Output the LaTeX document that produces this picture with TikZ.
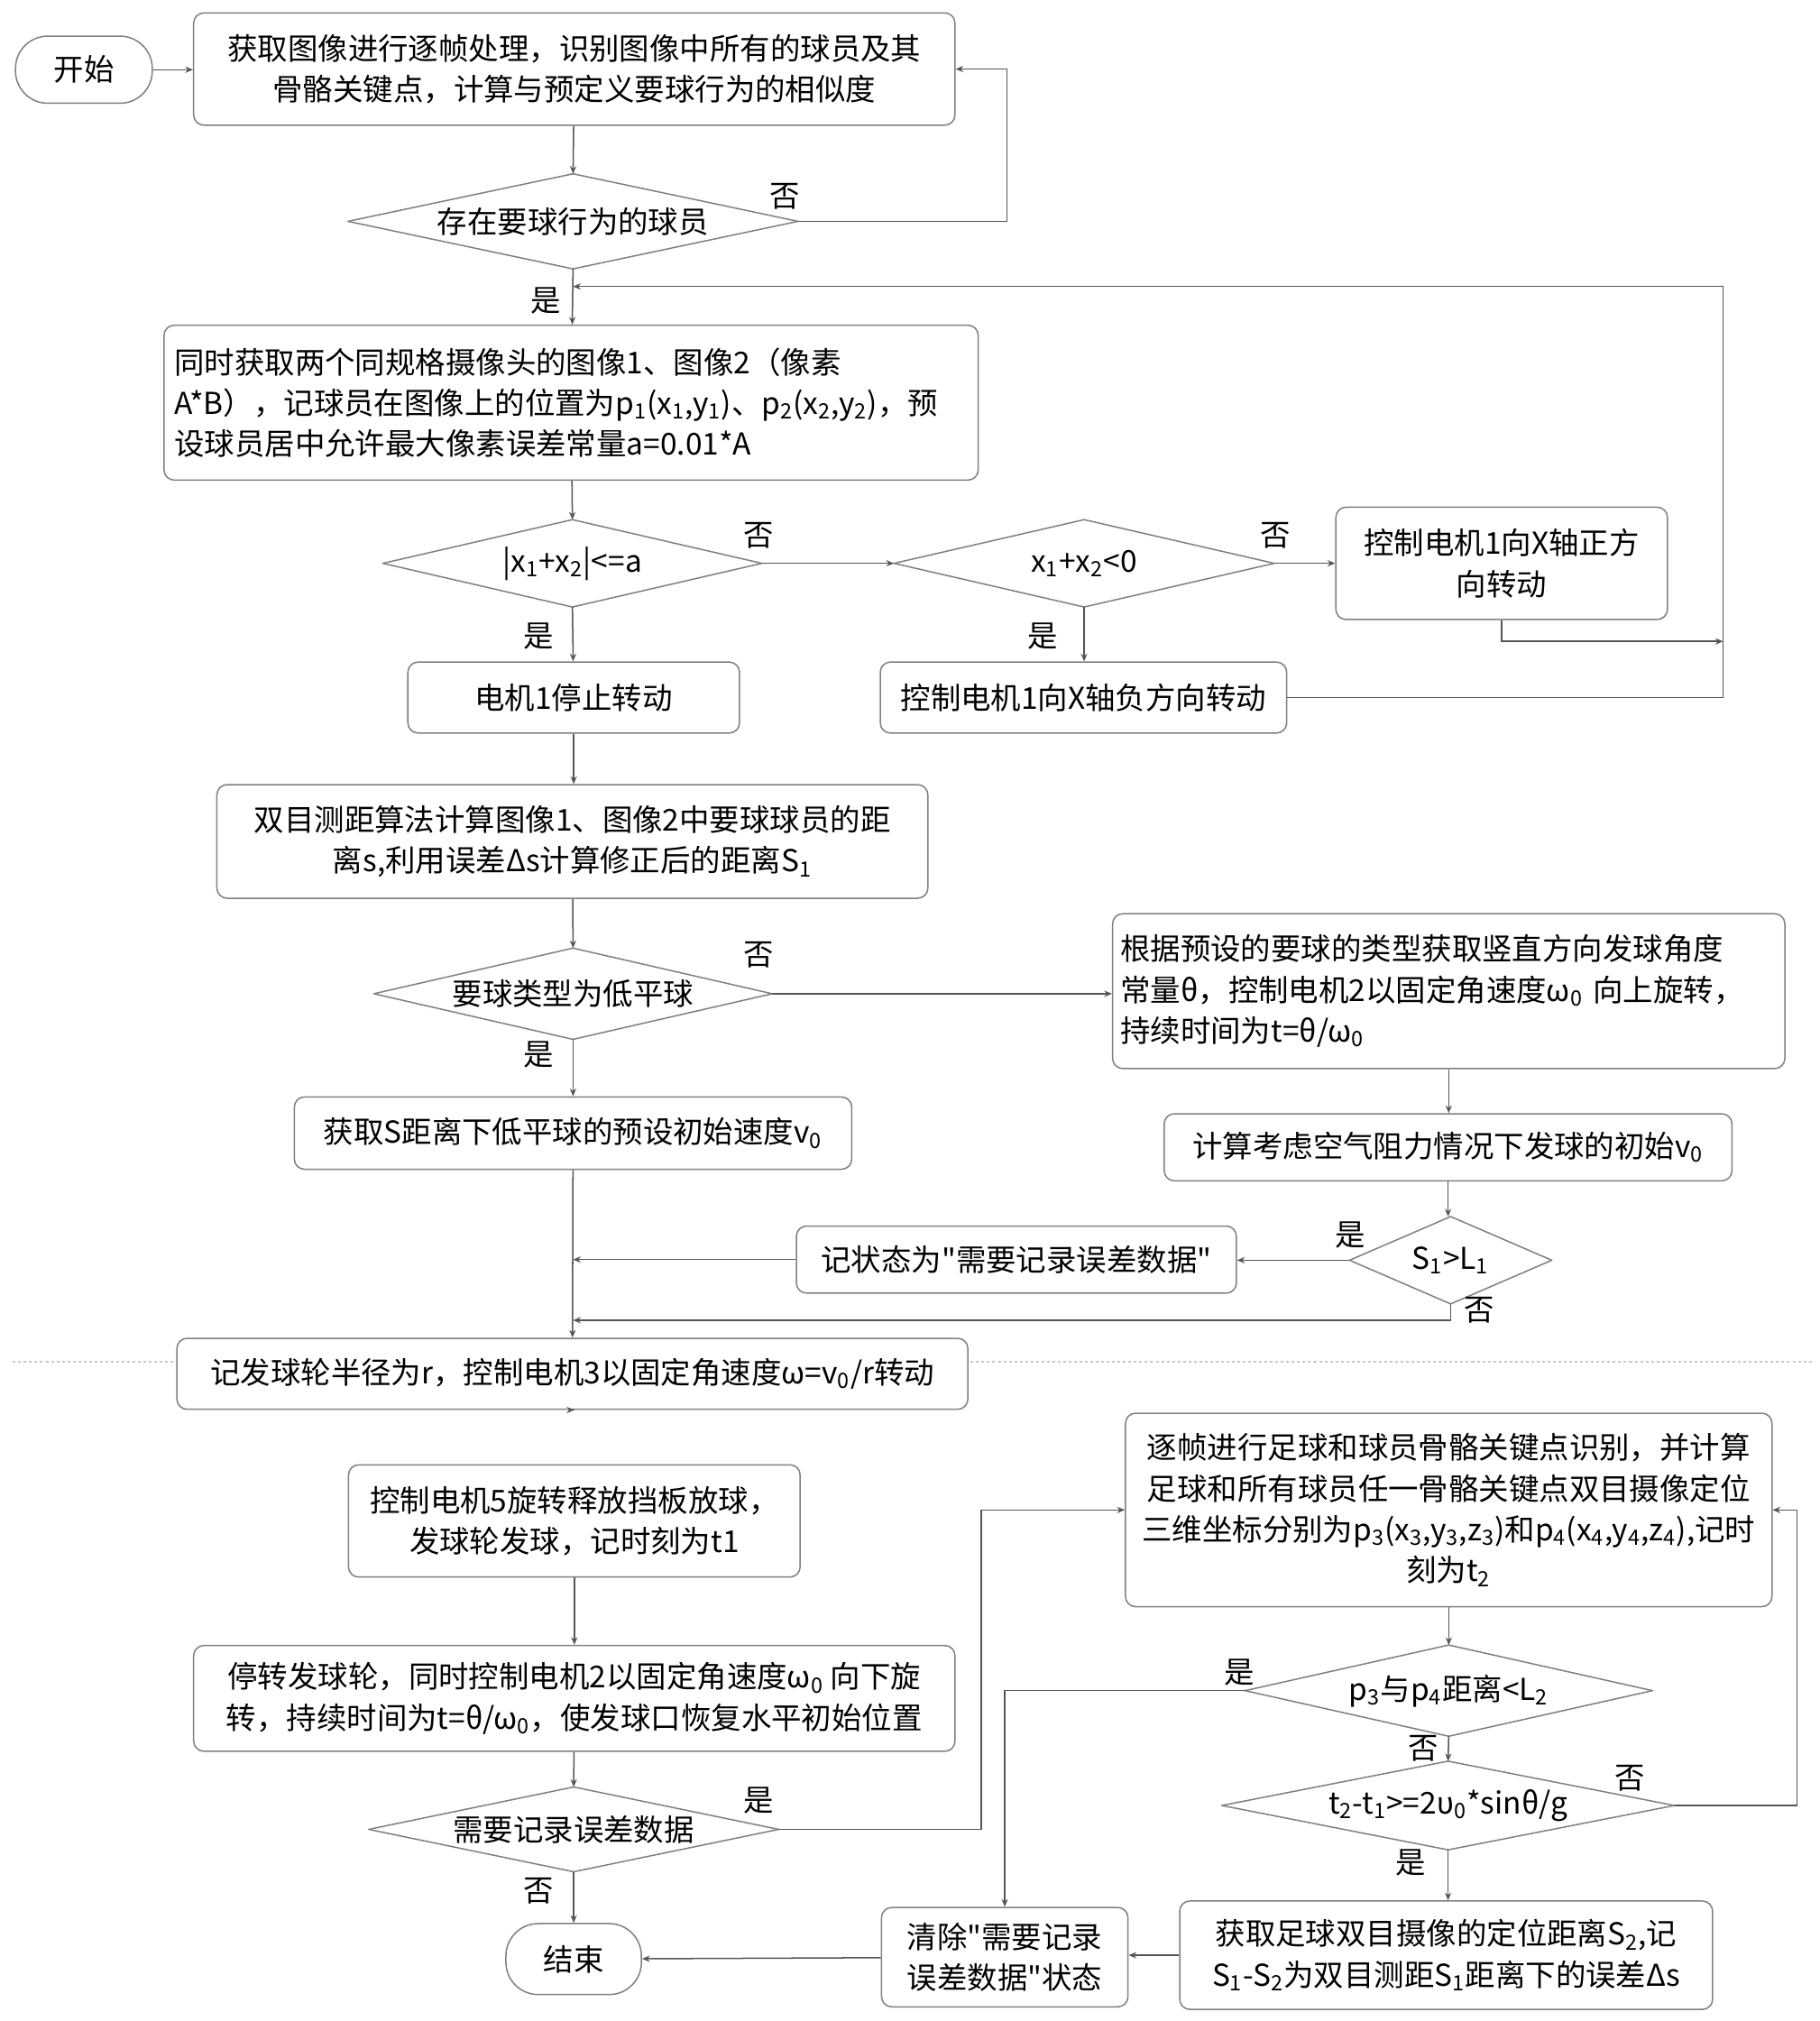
\documentclass[tikz,border=0pt]{standalone}
\usepackage{fontspec}
\setmainfont{Noto Sans CJK SC}[Ligatures=TeXOff]
\usetikzlibrary{arrows.meta}
\definecolor{linegray}{HTML}{555555}
\definecolor{boxgray}{HTML}{808080}
\newcommand{\sbs}[1]{\textsubscript{#1}}
\begin{document}
\begin{tikzpicture}[x=0.02cm,y=-0.02cm,>={Stealth[length=3.4pt,width=2.8pt]}]
        \tikzset{Process/.style={%
                shape=rectangle,%
                draw=boxgray,%
                fill=white,%
                rounded corners=4.5pt,%
                line width=0.6pt,%
                inner sep=0pt,%
                align=center,%
                font=\fontsize{13.3}{18}\selectfont,%
            },
            Terminal/.style={Process, rounded corners=0.5cm},
            Border/.style={-, draw=boxgray, line width=0.6pt, line cap=round},
            Decision/.style={%
                shape=rectangle,%
                inner sep=0pt,%
                font=\fontsize{13.3}{18}\selectfont,%
                append after command={%
                    (\tikzlastnode.north) edge[Border] (\tikzlastnode.east)
                    (\tikzlastnode.east) edge[Border] (\tikzlastnode.south)
                    (\tikzlastnode.south) edge[Border] (\tikzlastnode.west)
                    (\tikzlastnode.west) edge[Border] (\tikzlastnode.north)},%
            },
            Label/.style={font=\fontsize{13.3}{16}\selectfont, inner sep=0pt},
            Flow/.style={->, draw=linegray, line width=0.6pt},
        }

        \fill[white] (0,0) rectangle (1410,1566);
        \draw[draw=black!22, line width=0.6pt, dash pattern=on 1.2pt off 1.2pt] (10,1055) -- (1405,1055);

        % left column
        \node[Terminal, minimum width=2.12cm, minimum height=1.04cm] (start) at (65,54) {开始};
        \node[Process, minimum width=11.8cm, minimum height=1.74cm] (acquire) at (445,53.5) {获取图像进行逐帧处理，识别图像中所有的球员及其\\骨骼关键点，计算与预定义要球行为的相似度};
        \node[Decision, minimum width=6.96cm, minimum height=1.46cm] (exist) at (444,171.5) {存在要球行为的球员};
        \node[Process, minimum width=12.62cm, minimum height=2.4cm, text width=12.3cm, align=left] (camera) at (442.5,312) {同时获取两个同规格摄像头的图像1、图像2（像素\\A*B），记球员在图像上的位置为p\sbs{1}(x\sbs{1},y\sbs{1})、p\sbs{2}(x\sbs{2},y\sbs{2})，预\\设球员居中允许最大像素误差常量a=0.01*A};
        \node[Decision, minimum width=5.86cm, minimum height=1.34cm] (center) at (443.5,436.5) {|x\sbs{1}+x\sbs{2}|<=a};
        \node[Decision, minimum width=5.88cm, minimum height=1.34cm] (sign) at (840,436.5) {x\sbs{1}+x\sbs{2}<0};
        \node[Process, minimum width=5.14cm, minimum height=1.74cm] (turnpos) at (1163.5,436.5) {控制电机1向X轴正方\\向转动};
        \node[Process, minimum width=5.14cm, minimum height=1.1cm] (stop) at (444.5,540.5) {电机1停止转动};
        \node[Process, minimum width=6.3cm, minimum height=1.1cm] (turnneg) at (839.5,540.5) {控制电机1向X轴负方向转动};
        \node[Process, minimum width=11.02cm, minimum height=1.76cm] (ranging) at (443.5,652) {双目测距算法计算图像1、图像2中要球球员的距\\离s,利用误差Δs计算修正后的距离S\sbs{1}};
        \node[Decision, minimum width=6.16cm, minimum height=1.4cm] (lowball) at (444,770) {要球类型为低平球};
        \node[Process, minimum width=10.42cm, minimum height=2.4cm, text width=10.18cm, align=left] (angle) at (1122.5,768) {根据预设的要球的类型获取竖直方向发球角度\\常量θ，控制电机2以固定角速度ω\sbs{0} 向上旋转，\\持续时间为t=θ/ω\sbs{0}};
        \node[Process, minimum width=8.64cm, minimum height=1.12cm] (presetv) at (444,878) {获取S距离下低平球的预设初始速度v\sbs{0}};
        \node[Process, minimum width=8.8cm, minimum height=1.04cm] (airv) at (1122,889) {计算考虑空气阻力情况下发球的初始v\sbs{0}};
        \node[Decision, minimum width=3.12cm, minimum height=1.34cm] (far) at (1124,976.5) {S\sbs{1}>L\sbs{1}};
        \node[Process, minimum width=6.82cm, minimum height=1.04cm] (mark) at (787.5,976) {记状态为"需要记录误差数据"};
        \coordinate (joinTop) at (444,222);
        \coordinate (joinRight) at (1335,497);
        \coordinate (joinMark) at (444,976);
        \coordinate (joinFar) at (444,1023);

        % lower half
        \node[Process, minimum width=12.26cm, minimum height=1.1cm] (wheel) at (443.5,1064.5) {记发球轮半径为r，控制电机3以固定角速度ω=v\sbs{0}/r转动};
        \node[Process, minimum width=7.0cm, minimum height=1.74cm] (release) at (445,1178.5) {控制电机5旋转释放挡板放球，\\发球轮发球，记时刻为t1};
        \node[Process, minimum width=11.8cm, minimum height=1.64cm] (reset) at (445,1316) {停转发球轮，同时控制电机2以固定角速度ω\sbs{0} 向下旋\\转，持续时间为t=θ/ω\sbs{0}，使发球口恢复水平初始位置};
        \node[Decision, minimum width=6.34cm, minimum height=1.3cm] (needrec) at (444.5,1417.5) {需要记录误差数据};
        \node[Terminal, minimum width=2.1cm, minimum height=1.1cm] (finish) at (444.5,1518) {结束};
        \node[Process, minimum width=10.02cm, minimum height=3.0cm] (track) at (1122.5,1170) {逐帧进行足球和球员骨骼关键点识别，并计算\\足球和所有球员任一骨骼关键点双目摄像定位\\三维坐标分别为p\sbs{3}(x\sbs{3},y\sbs{3},z\sbs{3})和p\sbs{4}(x\sbs{4},y\sbs{4},z\sbs{4}),记时\\刻为t\sbs{2}};
        \node[Decision, minimum width=6.3cm, minimum height=1.4cm] (touch) at (1122.5,1310) {p\sbs{3}与p\sbs{4}距离<L\sbs{2}};
        \node[Decision, minimum width=7.0cm, minimum height=1.36cm] (timeout) at (1122,1399) {t\sbs{2}-t\sbs{1}>=2υ\sbs{0}*sinθ/g};
        \node[Process, minimum width=8.26cm, minimum height=1.68cm] (error) at (1120.5,1515) {获取足球双目摄像的定位距离S\sbs{2},记\\S\sbs{1}-S\sbs{2}为双目测距S\sbs{1}距离下的误差Δs};
        \node[Process, minimum width=3.82cm, minimum height=1.54cm] (clear) at (778.5,1516.5) {清除"需要记录\\误差数据"状态};

        % yes / no labels
        \node[Label] (no1) at (608,152) {否};
        \node[Label] (yes1) at (423,233) {是};
        \node[Label] (no2) at (588,415) {否};
        \node[Label] (no3) at (988,415) {否};
        \node[Label] (yes2) at (417,493) {是};
        \node[Label] (yes3) at (808,493) {是};
        \node[Label] (no4) at (588,740) {否};
        \node[Label] (yes4) at (417,817) {是};
        \node[Label] (yes5) at (1046,957) {是};
        \node[Label] (no5) at (1146,1015) {否};
        \node[Label] (yes6) at (588,1395) {是};
        \node[Label] (no6) at (417,1465) {否};
        \node[Label] (yes7) at (960,1296) {是};
        \node[Label] (no7) at (1103,1355) {否};
        \node[Label] (no8) at (1263,1378) {否};
        \node[Label] (yes8) at (1093,1443) {是};

        % connectors
        \draw[Flow] (start.east) -- (start.east -| acquire.west);
        \draw[Flow] (acquire) -- (exist.north);
        \draw[Flow] (exist.east) -- ++(162,0) |- (acquire.east);
        \draw[Flow] (exist.south) -- (camera);
        \draw[Flow] (camera) -- (center.north);
        \draw[Flow] (center.east) -- (sign.west);
        \draw[Flow] (sign.east) -- (turnpos);
        \draw[Flow] (center.south) -- (stop);
        \draw[Flow] (sign.south) -- (sign.south |- turnneg.north);
        \draw[Flow] (turnpos) |- (joinRight);
        \draw[Flow] (turnneg) -| (joinRight) |- (joinTop);
        \draw[Flow] (stop) -- (stop.south |- ranging.north);
        \draw[Flow] (ranging) -- (lowball.north);
        \draw[Flow] (lowball.east) -- (lowball.east -| angle.west);
        \draw[Flow] (lowball.south) -- (presetv);
        \draw[Flow] (angle) -- (angle.south |- airv.north);
        \draw[Flow] (airv.south) -- (airv.south |- far.north);
        \draw[Flow] (far.west) -- (far.west -| mark.east);
        \draw[Flow] (mark) -- (joinMark);
        \draw[Flow] (far.south) |- (joinFar);
        \draw[Flow] (presetv) -- (wheel);
        \draw[Flow] (wheel) -- (wheel.south -| release.north);
        \draw[Flow] (release) -- (reset);
        \draw[Flow] (reset) -- (needrec.north);
        \draw[Flow] (needrec.east) -- ++(157,0) |- (track.west);
        \draw[Flow] (needrec.south) -- (finish);
        \draw[Flow] (track) -- (touch.north);
        \draw[Flow] (touch.west) -| (clear.north);
        \draw[Flow] (touch.south) -- (timeout.north);
        \draw[Flow] (timeout.east) -- ++(95,0) |- (track.east);
        \draw[Flow] (timeout.south) -- (timeout.south |- error.north);
        \draw[Flow] (error.west) -- (error.west -| clear.east);
        \draw[Flow] (clear) -- (finish);
\end{tikzpicture}
\end{document}
